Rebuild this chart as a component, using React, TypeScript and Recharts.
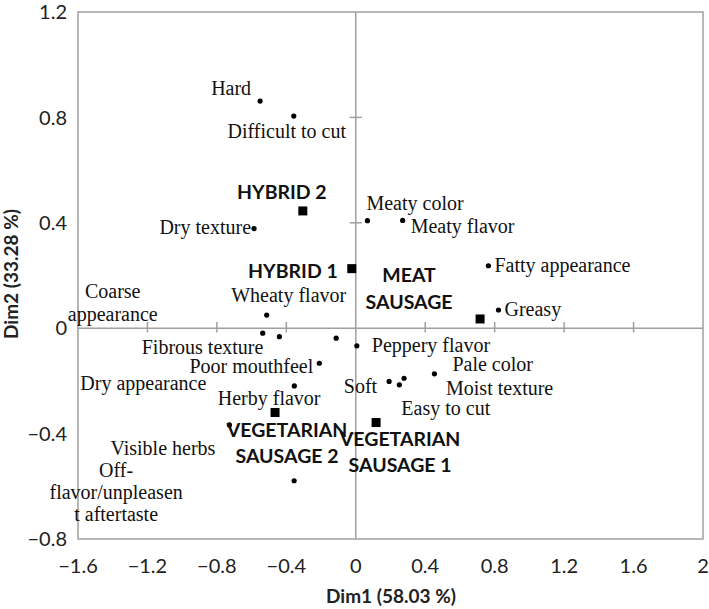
import React from 'react';
import {
  ScatterChart,
  Scatter,
  XAxis,
  YAxis,
  ReferenceArea,
  ReferenceLine,
} from 'recharts';

// sensory attributes (small dots)
const attrNames = [
  'Hard', 'Difficult to cut', 'Dry texture', 'Wheaty flavor', 'Coarse appearance',
  'Fibrous texture', 'Herby flavor', 'Peppery flavor', 'Poor mouthfeel', 'Dry appearance',
  'Visible herbs', 'Off-flavor/unpleasent aftertaste', 'Meaty color', 'Meaty flavor',
  'Fatty appearance', 'Greasy', 'Soft', 'Easy to cut', 'Moist texture', 'Pale color',
];
const attrDim1 = [
  -0.551, -0.357, -0.586, -0.513, -0.536, -0.44, -0.113, 0.006, -0.21, -0.354,
  -0.728, -0.355, 0.067, 0.27, 0.764, 0.822, 0.192, 0.251, 0.278, 0.453,
];
const attrDim2 = [
  0.862, 0.805, 0.378, 0.05, -0.019, -0.032, -0.038, -0.067, -0.133, -0.219,
  -0.367, -0.579, 0.408, 0.409, 0.237, 0.069, -0.202, -0.215, -0.19, -0.173,
];

// sausage samples (squares)
const sampleNames = ['HYBRID 2', 'HYBRID 1', 'MEAT SAUSAGE', 'VEGETARIAN SAUSAGE 1', 'VEGETARIAN SAUSAGE 2'];
const sampleDim1 = [-0.305, -0.023, 0.716, 0.117, -0.465];
const sampleDim2 = [0.445, 0.226, 0.035, -0.358, -0.32];

const xTicks = [-1.6, -1.2, -0.8, -0.4, 0, 0.4, 0.8, 1.2, 1.6, 2];
const yTicks = [-0.8, -0.4, 0, 0.4, 0.8, 1.2];

type Anchor = 'start' | 'middle' | 'end';
type LabelPos = { anchor: Anchor; dx: number; dy: number; lines?: string[]; gap?: number };

// where each data label sits, relative to its marker (px)
const labelPos: Record<string, LabelPos> = {
  'Hard': { anchor: 'end', dx: -9, dy: -6 },
  'Difficult to cut': { anchor: 'middle', dx: -7, dy: 22 },
  'Dry texture': { anchor: 'end', dx: -3, dy: 5 },
  'Wheaty flavor': { anchor: 'middle', dx: 22, dy: -13 },
  'Coarse appearance': { anchor: 'middle', dx: -150, dy: -35, lines: ['Coarse', 'appearance'], gap: 23 },
  'Fibrous texture': { anchor: 'end', dx: -16, dy: 17 },
  'Herby flavor': { anchor: 'middle', dx: -67, dy: 67 },
  'Peppery flavor': { anchor: 'start', dx: 15, dy: 6 },
  'Poor mouthfeel': { anchor: 'end', dx: -6, dy: 10 },
  'Dry appearance': { anchor: 'end', dx: -88, dy: 4 },
  'Visible herbs': { anchor: 'end', dx: -14, dy: 30 },
  'Off-flavor/unpleasent aftertaste': {
    anchor: 'middle', dx: -178, dy: -4, lines: ['Off-', 'flavor/unpleasen', 't aftertaste'], gap: 22,
  },
  'Meaty color': { anchor: 'start', dx: -1, dy: -11 },
  'Meaty flavor': { anchor: 'start', dx: 8, dy: 13 },
  'Fatty appearance': { anchor: 'start', dx: 6, dy: 6 },
  'Greasy': { anchor: 'start', dx: 6, dy: 6 },
  'Soft': { anchor: 'end', dx: -12, dy: 12 },
  'Easy to cut': { anchor: 'start', dx: 2, dy: 30 },
  'Moist texture': { anchor: 'start', dx: 42, dy: 17 },
  'Pale color': { anchor: 'start', dx: 18, dy: -3 },
  'HYBRID 2': { anchor: 'middle', dx: -21, dy: -12 },
  'HYBRID 1': { anchor: 'end', dx: -14, dy: 9 },
  'MEAT SAUSAGE': { anchor: 'middle', dx: -71, dy: -37, lines: ['MEAT', 'SAUSAGE'], gap: 26.6 },
  'VEGETARIAN SAUSAGE 1': { anchor: 'middle', dx: 24, dy: 23, lines: ['VEGETARIAN', 'SAUSAGE 1'], gap: 26 },
  'VEGETARIAN SAUSAGE 2': { anchor: 'middle', dx: 12, dy: 24, lines: ['VEGETARIAN', 'SAUSAGE 2'], gap: 26.6 },
};

const attrData = attrNames.map((name, i) => ({ name, x: attrDim1[i], y: attrDim2[i] }));
const sampleData = sampleNames.map((name, i) => ({ name, x: sampleDim1[i], y: sampleDim2[i] }));

const SERIF = '"Liberation Serif", "Times New Roman", serif';
const SANS = 'Lato, "Open Sans", sans-serif';
const GRAY = '#a0a0a0';

function renderLabel(cx: number, cy: number, name: string, bold: boolean) {
  const p = labelPos[name];
  if (!p) return null;
  const lines = p.lines || [name];
  const gap = p.gap || 22;
  return (
    <text
      textAnchor={p.anchor}
      fontFamily={bold ? SANS : SERIF}
      fontWeight={bold ? 700 : 400}
      fontSize={bold ? 19.5 : 20}
      fill="#111"
    >
      {lines.map((l, i) => (
        <tspan key={i} x={cx + p.dx} y={cy + p.dy + i * gap}>
          {l}
        </tspan>
      ))}
    </text>
  );
}

const AttrShape = (props: any) => {
  const { cx, cy, payload } = props;
  return (
    <g>
      <circle cx={cx} cy={cy} r={2.6} fill="#000" />
      {renderLabel(cx, cy, payload.name, false)}
    </g>
  );
};

const SampleShape = (props: any) => {
  const { cx, cy, payload } = props;
  return (
    <g>
      <rect x={cx - 4.5} y={cy - 4.5} width={9} height={9} fill="#000" />
      {renderLabel(cx, cy, payload.name, true)}
    </g>
  );
};

const fmt = (v: number) => String(v).replace('-', '\u2212');

export default function App() {
  return (
    <div style={{ position: 'absolute', left: 0, top: 0, background: '#fff' }}>
      <ScatterChart width={709} height={609} margin={{ top: 12, right: 6, bottom: 30, left: 8 }}>
        <XAxis
          type="number"
          dataKey="x"
          domain={[-1.6, 2]}
          ticks={xTicks}
          tickFormatter={fmt}
          axisLine={false}
          tickLine={false}
          tickSize={0}
          tickMargin={20}
          height={40}
          tick={{ fontSize: 20, fontFamily: SANS, fill: '#222' }}
          label={() => (
            <text x={391} y={603} textAnchor="middle" fontFamily={SANS} fontWeight={700} fontSize={19} fill="#222">
              Dim1 (58.03 %)
            </text>
          )}
        />
        <YAxis
          type="number"
          dataKey="y"
          domain={[-0.8, 1.2]}
          ticks={yTicks}
          tickFormatter={fmt}
          axisLine={false}
          tickLine={false}
          tickSize={0}
          tickMargin={11}
          width={70}
          tick={{ fontSize: 20, fontFamily: SANS, fill: '#222' }}
          label={() => (
            <text
              x={18}
              y={274}
              textAnchor="middle"
              transform="rotate(-90 18 274)"
              fontFamily={SANS}
              fontWeight={700}
              fontSize={19}
              fill="#222"
            >
              Dim2 (33.28 %)
            </text>
          )}
        />
        <ReferenceArea x1={-1.6} x2={2} y1={-0.8} y2={1.2} fill="none" stroke={GRAY} strokeWidth={1.5} />
        <ReferenceLine x={0} stroke={GRAY} strokeWidth={1.5} />
        <ReferenceLine y={0} stroke={GRAY} strokeWidth={1.5} />
        {xTicks
          .filter((t) => t !== 0 && t !== -1.6 && t !== 2)
          .map((t) => (
            <ReferenceLine
              key={'xt' + t}
              segment={[{ x: t, y: -0.016 }, { x: t, y: 0.024 }]}
              stroke={GRAY}
              strokeWidth={1.5}
            />
          ))}
        {yTicks
          .filter((t) => t !== 0 && t !== -0.8 && t !== 1.2)
          .map((t) => (
            <ReferenceLine
              key={'yt' + t}
              segment={[{ x: -0.035, y: t }, { x: 0.035, y: t }]}
              stroke={GRAY}
              strokeWidth={1.5}
            />
          ))}
        <Scatter data={attrData} shape={AttrShape} isAnimationActive={false} />
        <Scatter data={sampleData} shape={SampleShape} isAnimationActive={false} />
      </ScatterChart>
    </div>
  );
}
